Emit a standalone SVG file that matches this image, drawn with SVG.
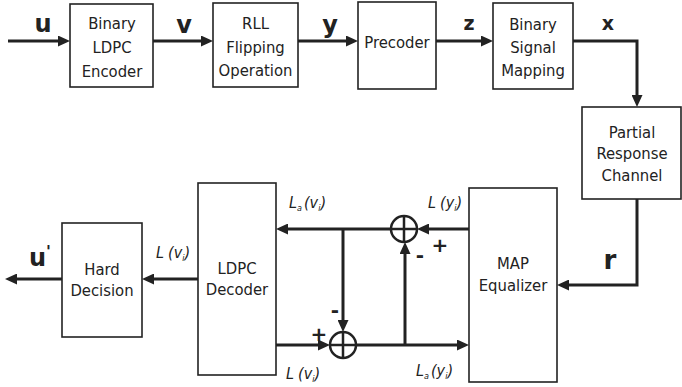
<svg xmlns="http://www.w3.org/2000/svg" width="682" height="387" viewBox="0 0 682 387">
<style>
.box{fill:#fff;stroke:#222;stroke-width:1.6}
.t{font-family:"DejaVu Sans Condensed","DejaVu Sans",sans-serif;font-stretch:condensed;font-size:16.5px;fill:#222;text-anchor:middle}
.b{font-family:"DejaVu Sans",sans-serif;font-weight:bold;fill:#222;text-anchor:middle}
.it{font-family:"DejaVu Sans Condensed","DejaVu Sans",sans-serif;font-stretch:condensed;font-style:italic;font-size:16px;fill:#222}
.sub{font-size:9px}
.w{fill:none;stroke:#222;stroke-width:3}
.sum{fill:#fff;stroke:#222;stroke-width:2.5}
.sg{font-family:"DejaVu Sans",sans-serif;font-weight:bold;font-size:20px;fill:#222;text-anchor:middle}
</style>
<defs>
<marker id="ah" markerUnits="userSpaceOnUse" markerWidth="13" markerHeight="11" refX="7" refY="5.5" orient="auto">
<path d="M0,0 L12,5.5 L0,11 z" fill="#222"/>
</marker>
</defs>
<g id="connectors">
<path class="w" d="M8,41 H65" marker-end="url(#ah)"/>
<path class="w" d="M153,41 H208" marker-end="url(#ah)"/>
<path class="w" d="M298,41 H353" marker-end="url(#ah)"/>
<path class="w" d="M436,41 H488" marker-end="url(#ah)"/>
<path class="w" d="M573,41 H637 V102" marker-end="url(#ah)"/>
<path class="w" d="M637,199 V285 H562" marker-end="url(#ah)"/>
<path class="w" d="M469,229 H422" marker-end="url(#ah)"/>
<path class="w" d="M391,229 H281" marker-end="url(#ah)"/>
<path class="w" d="M343,229 V327" marker-end="url(#ah)"/>
<path class="w" d="M276,345 H325" marker-end="url(#ah)"/>
<path class="w" d="M356,345 H464" marker-end="url(#ah)"/>
<path class="w" d="M405,345 V247" marker-end="url(#ah)"/>
<path class="w" d="M198,279 H147" marker-end="url(#ah)"/>
<path class="w" d="M62,279 H10" marker-end="url(#ah)"/>
</g>
<g id="encoder"><rect class="box" x="70" y="4" width="83" height="83"/>
<text class="t" x="112" y="29">Binary</text><text class="t" x="112" y="53">LDPC</text><text class="t" x="112" y="77">Encoder</text></g>
<g id="rll"><rect class="box" x="213" y="3" width="85" height="84"/>
<text class="t" x="255.5" y="29">RLL</text><text class="t" x="255.5" y="53">Flipping</text><text class="t" x="255.5" y="76">Operation</text></g>
<g id="precoder"><rect class="box" x="358" y="2" width="78" height="87"/>
<text class="t" x="397" y="48">Precoder</text></g>
<g id="mapping"><rect class="box" x="493" y="3" width="80" height="86"/>
<text class="t" x="533" y="30">Binary</text><text class="t" x="533" y="53">Signal</text><text class="t" x="533" y="76">Mapping</text></g>
<g id="channel"><rect class="box" x="582" y="107" width="99" height="92"/>
<text class="t" x="632" y="138">Partial</text><text class="t" x="632" y="159">Response</text><text class="t" x="632" y="181">Channel</text></g>
<g id="equalizer"><rect class="box" x="469" y="188" width="88" height="194"/>
<text class="t" x="513" y="269">MAP</text><text class="t" x="513" y="291">Equalizer</text></g>
<g id="decoder"><rect class="box" x="198" y="183" width="78" height="192"/>
<text class="t" x="237" y="274">LDPC</text><text class="t" x="237" y="295">Decoder</text></g>
<g id="hard"><rect class="box" x="62" y="223" width="80" height="114"/>
<text class="t" x="102" y="275">Hard</text><text class="t" x="102" y="296">Decision</text></g>
<g id="sum1"><circle class="sum" cx="404" cy="229" r="13"/><path d="M391,229 H417 M404,216 V242" stroke="#222" stroke-width="2.5"/></g>
<g id="sum2"><circle class="sum" cx="343" cy="345" r="13"/><path d="M330,345 H356 M343,332 V358" stroke="#222" stroke-width="2.5"/></g>
<g id="labels">
<text class="b" x="43" y="32" font-size="24">u</text>
<text class="b" x="184" y="33" font-size="24">v</text>
<text class="b" x="330" y="33" font-size="24">y</text>
<text class="b" x="469" y="30" font-size="19">z</text>
<text class="b" x="608" y="30" font-size="19">x</text>
<text class="b" x="610" y="269" font-size="26">r</text>
<text class="b" x="40" y="266" font-size="24">u<tspan font-size="16" dy="-9">'</tspan></text>
<text class="it" x="156" y="258">L<tspan dx="4">(v</tspan><tspan class="sub" dy="3">i</tspan><tspan dy="-3">)</tspan></text>
<text class="it" x="289" y="208">L<tspan class="sub" dy="3">a</tspan><tspan dy="-3" dx="2">(v</tspan><tspan class="sub" dy="3">i</tspan><tspan dy="-3">)</tspan></text>
<text class="it" x="428" y="208">L<tspan dx="4">(y</tspan><tspan class="sub" dy="3">i</tspan><tspan dy="-3">)</tspan></text>
<text class="it" x="286" y="379">L<tspan dx="4">(v</tspan><tspan class="sub" dy="3">i</tspan><tspan dy="-3">)</tspan></text>
<text class="it" x="416" y="376">L<tspan class="sub" dy="3">a</tspan><tspan dy="-3" dx="2">(y</tspan><tspan class="sub" dy="3">i</tspan><tspan dy="-3">)</tspan></text>
<text class="sg" x="440" y="252">+</text>
<text class="sg" x="420" y="262">-</text>
<text class="sg" x="335" y="317">-</text>
<text class="sg" x="319" y="341">+</text>
</g>
</svg>
